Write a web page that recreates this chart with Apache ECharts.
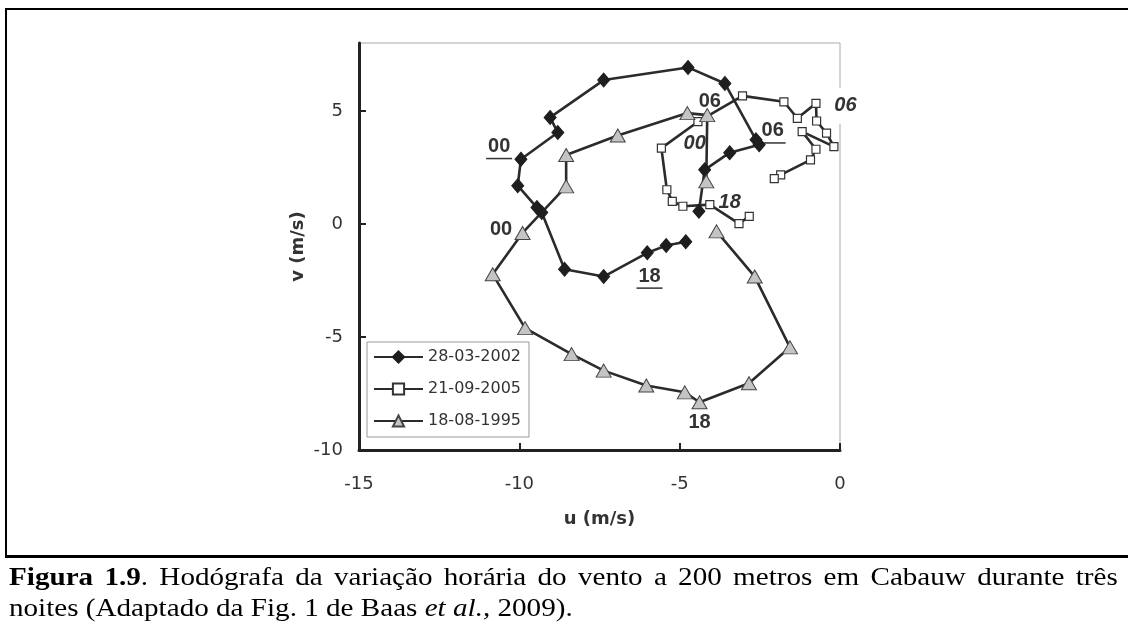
<!DOCTYPE html>
<html>
<head>
<meta charset="utf-8">
<title>Hodógrafa - Cabauw</title>
<script src="https://cdn.jsdelivr.net/npm/echarts@6/dist/echarts.min.js"></script>
<style>
  html, body { margin: 0; padding: 0; background: #fff; }
  #chart { position: absolute; left: 0; top: 0; width: 1128px; height: 628px; }
  .rule { position: absolute; background: #000; }
  #caption {
    position: absolute; left: 9px; top: 561px; width: 990px;
    font-family: "Liberation Serif", "Times New Roman", serif;
    font-size: 26px; line-height: 31px; color: #000;
    transform: scaleX(1.12); transform-origin: 0 0;
  }
  #caption .l1 { text-align: justify; text-align-last: justify; }
</style>
</head>
<body>
<div id="chart"></div>
<div class="rule" style="left:5px; top:8px; width:1123px; height:2px;"></div>
<div class="rule" style="left:5px; top:8px; width:2px; height:549px;"></div>
<div class="rule" style="left:5px; top:555px; width:1123px; height:3px;"></div>
<div id="caption">
  <div class="l1"><b>Figura 1.9</b>. Hodógrafa da variação horária do vento a 200 metros em Cabauw durante três</div>
  <div>noites (Adaptado da Fig. 1 de Baas <i>et al.,</i> 2009).</div>
</div>
<script>
// Wind vector components at 200 m (u, v in m/s), one point per hour.
// 28-03-2002 (black diamonds)
const u2002 = [-4.81, -5.42, -6.01, -7.37, -8.59, -9.30, -9.45, -10.05, -9.95, -8.80, -9.04, -7.37, -4.74, -3.59, -2.62, -2.52, -3.44, -4.22, -4.40];
const v2002 = [-0.79, -0.96, -1.28, -2.33, -2.01, 0.50, 0.72, 1.69, 2.86, 4.04, 4.71, 6.36, 6.92, 6.21, 3.72, 3.50, 3.15, 2.39, 0.56];
// 21-09-2005 (open squares)
const u2005 = [-2.83, -3.15, -4.06, -4.90, -5.23, -5.40, -5.57, -4.43, -3.04, -1.75, -1.33, -0.75, -0.73, -0.42, -0.19, -1.18, -0.75, -0.92, -1.85, -2.05];
const v2005 = [0.33, 0.01, 0.85, 0.78, 1.00, 1.51, 3.35, 4.52, 5.66, 5.40, 4.67, 5.33, 4.55, 4.01, 3.42, 4.08, 3.30, 2.83, 2.17, 2.00];
// 18-08-1995 (grey triangles)
const u1995 = [-3.85, -2.66, -1.56, -2.84, -4.38, -4.84, -6.04, -7.37, -8.37, -9.82, -10.83, -9.90, -8.54, -8.54, -6.93, -4.76, -4.14, -4.17];
const v1995 = [-0.33, -2.33, -5.46, -7.05, -7.89, -7.45, -7.15, -6.49, -5.76, -4.61, -2.23, -0.40, 1.66, 3.05, 3.91, 4.90, 4.81, 1.88];

// Hour tags (UTC) and where they sit in (u, v)
const tagHour2002 = ['00', '06', '18'];
const tagU2002 = [-10.63, -2.10, -5.94];
const tagV2002 = [3.42, 4.11, -2.31];
const tagHour2005 = ['00', '18', '06'];
const tagU2005 = [-4.53, -3.44, 0.17];
const tagV2005 = [3.57, 0.95, 5.23];
const tagHour1995 = ['00', '06', '18'];
const tagU1995 = [-10.57, -4.06, -4.38];
const tagV1995 = [-0.25, 5.40, -8.77];

// Axis ticks
const uTicks = [-15, -10, -5, 0];
const vTicks = [-10, -5, 0, 5];

const seriesNames = ['28-03-2002', '21-09-2005', '18-08-1995'];

const SANS = '"DejaVu Sans", Verdana, sans-serif';
const TAGFONT = '"Liberation Sans", Arial, Helvetica, sans-serif';
const INK = '#2b2b2b';

function pairs(us, vs) {
  return us.map((u, i) => [u, vs[i]]);
}

function tagSeries(hours, us, vs, look) {
  return {
    type: 'custom',
    z: 1,
    clip: false,
    silent: true,
    data: pairs(us, vs),
    encode: { x: 0, y: 1 },
    renderItem: function (params, api) {
      const p = api.coord([api.value(0), api.value(1)]);
      const children = [{
        type: 'text',
        x: p[0],
        y: p[1],
        style: {
          text: hours[params.dataIndex],
          fontFamily: TAGFONT,
          fontSize: 20,
          fontWeight: 'bold',
          fontStyle: look.italic ? 'italic' : 'normal',
          fill: '#333',
          align: 'center',
          verticalAlign: 'middle',
          backgroundColor: look.box ? '#fff' : undefined,
          padding: look.box ? [8, 3] : 0
        }
      }];
      if (look.underline) {
        children.push({
          type: 'line',
          shape: { x1: p[0] - 13, y1: p[1] + 12, x2: p[0] + 13, y2: p[1] + 12 },
          style: { stroke: '#333', lineWidth: 1.5 }
        });
      }
      return { type: 'group', children: children };
    }
  };
}

const chart = echarts.init(document.getElementById('chart'), null, { renderer: 'canvas' });

chart.setOption({
  backgroundColor: '#fff',
  animation: false,
  textStyle: { fontFamily: SANS },
  grid: {
    left: 359, top: 43, width: 481, height: 407,
    show: true, borderColor: '#aaa', borderWidth: 1,
    backgroundColor: 'transparent',
    outerBoundsMode: 'none',
    containLabel: false
  },
  legend: {
    orient: 'vertical',
    left: 367, top: 342,
    data: seriesNames,
    itemWidth: 49, itemHeight: 14, itemGap: 16,
    padding: [7, 8, 8, 6],
    borderColor: '#999', borderWidth: 1,
    backgroundColor: '#fff',
    selectedMode: false,
    textStyle: { fontSize: 16, color: '#333', fontFamily: SANS }
  },
  xAxis: {
    type: 'value',
    min: -15, max: 0, interval: 5,
    name: 'u (m/s)',
    nameLocation: 'middle',
    nameGap: 60,
    nameTextStyle: { fontSize: 18, fontWeight: 'bold', color: '#333', fontFamily: SANS },
    axisLine: { show: true, onZero: false, lineStyle: { color: '#222', width: 3 } },
    axisTick: { show: true, inside: true, length: 7, customValues: uTicks, lineStyle: { color: '#222', width: 2 } },
    axisLabel: { customValues: uTicks, margin: 25, fontSize: 18, color: '#333', fontFamily: SANS },
    splitLine: { show: false }
  },
  yAxis: {
    type: 'value',
    min: -10, max: 8, interval: 5,
    name: 'v (m/s)',
    nameLocation: 'middle',
    nameGap: 52,
    nameTextStyle: { fontSize: 18, fontWeight: 'bold', color: '#333', fontFamily: SANS },
    axisLine: { show: true, onZero: false, lineStyle: { color: '#222', width: 3 } },
    axisTick: { show: true, inside: true, length: 7, customValues: vTicks, lineStyle: { color: '#222', width: 2 } },
    axisLabel: { customValues: vTicks, margin: 16, fontSize: 18, color: '#333', fontFamily: SANS },
    splitLine: { show: false }
  },
  series: [
    {
      name: seriesNames[0],
      type: 'line',
      data: pairs(u2002, v2002),
      symbol: 'diamond',
      symbolSize: [12, 14],
      lineStyle: { color: INK, width: 2.6 },
      itemStyle: { color: '#1e1e1e', borderColor: '#1e1e1e', borderWidth: 1 },
      emphasis: { disabled: true }
    },
    {
      name: seriesNames[1],
      type: 'line',
      data: pairs(u2005, v2005),
      symbol: 'rect',
      symbolSize: 8,
      lineStyle: { color: INK, width: 2.6 },
      itemStyle: { color: '#fff', borderColor: '#333', borderWidth: 1.2 },
      emphasis: { disabled: true }
    },
    {
      name: seriesNames[2],
      type: 'line',
      data: pairs(u1995, v1995),
      symbol: 'triangle',
      symbolSize: [15, 13],
      lineStyle: { color: INK, width: 2.6 },
      itemStyle: { color: '#c4c4c4', borderColor: '#444', borderWidth: 1 },
      emphasis: { disabled: true }
    },
    tagSeries(tagHour2002, tagU2002, tagV2002, { underline: true }),
    tagSeries(tagHour2005, tagU2005, tagV2005, { italic: true, box: true }),
    tagSeries(tagHour1995, tagU1995, tagV1995, {})
  ]
});
</script>
</body>
</html>
